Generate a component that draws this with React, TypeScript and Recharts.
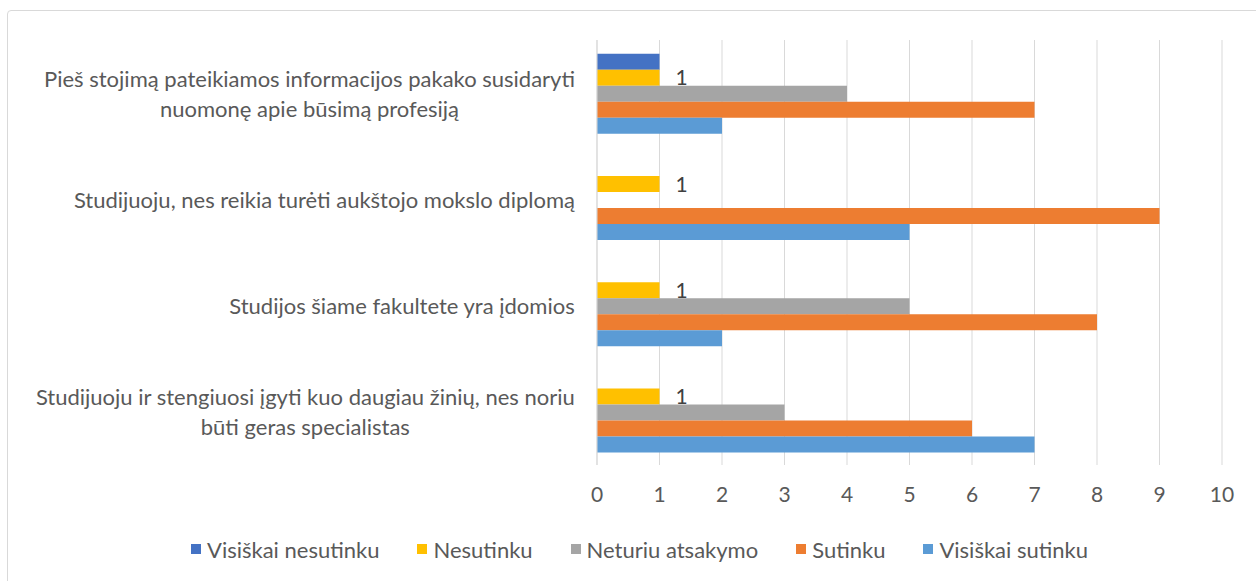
import React from "react"
import {
  BarChart,
  Bar,
  XAxis,
  YAxis,
  CartesianGrid,
  Legend,
  LabelList,
} from "recharts"

const categories = [
  "Pieš stojimą pateikiamos informacijos pakako susidaryti\nnuomonę apie būsimą profesiją",
  "Studijuoju, nes reikia turėti aukštojo mokslo diplomą",
  "Studijos šiame fakultete yra įdomios",
  "Studijuoju ir stengiuosi įgyti kuo daugiau žinių, nes noriu\nbūti geras specialistas",
]

const visiskaiNesutinku = [1, 0, 0, 0]
const nesutinku = [1, 1, 1, 1]
const neturiuAtsakymo = [4, 0, 5, 3]
const sutinku = [7, 9, 8, 6]
const visiskaiSutinku = [2, 5, 2, 7]

const xTicks = [0, 1, 2, 3, 4, 5, 6, 7, 8, 9, 10]

const series = [
  { key: "vn", name: "Visiškai nesutinku", color: "#4472C4", values: visiskaiNesutinku },
  { key: "n", name: "Nesutinku", color: "#FFC000", values: nesutinku },
  { key: "na", name: "Neturiu atsakymo", color: "#A5A5A5", values: neturiuAtsakymo },
  { key: "s", name: "Sutinku", color: "#ED7D31", values: sutinku },
  { key: "vs", name: "Visiškai sutinku", color: "#5B9BD5", values: visiskaiSutinku },
]

const data = categories.map((label, i) => {
  const row: any = { label }
  series.forEach((s) => (row[s.key] = s.values[i]))
  return row
})

const FONT = "Lato, 'Open Sans', sans-serif"
const TEXT = "#595959"
const LABEL_SIZE = 22

let ctx: CanvasRenderingContext2D | null = null
function textWidth(t: string, size: number) {
  if (!ctx) ctx = document.createElement("canvas").getContext("2d")
  if (!ctx) return t.length * size * 0.5
  ctx.font = `${size}px Lato`
  return ctx.measureText(t).width
}

function CategoryTick({ x, y, payload }: any) {
  const lines = String(payload.value).split("\n")
  const w = Math.max(...lines.map((l) => textWidth(l, LABEL_SIZE)))
  const cx = x - w / 2
  const lh = 30
  const startY = y - ((lines.length - 1) * lh) / 2
  return (
    <text fill={TEXT} fontSize={LABEL_SIZE} fontFamily={FONT} textAnchor="middle">
      {lines.map((l, i) => (
        <tspan key={i} x={cx} y={startY + i * lh} dominantBaseline="central">
          {l}
        </tspan>
      ))}
    </text>
  )
}

function LegendContent() {
  return (
    <div
      style={{
        height: 30,
        display: "flex",
        justifyContent: "center",
        alignItems: "center",
        gap: 38,
        fontFamily: FONT,
        fontSize: 22,
        color: TEXT,
        paddingLeft: 57,
      }}
    >
      {series.map((s) => (
        <div key={s.key} style={{ display: "flex", alignItems: "center", gap: 6 }}>
          <span style={{ width: 10, height: 10, background: s.color, display: "inline-block" }} />
          <span>{s.name}</span>
        </div>
      ))}
    </div>
  )
}

export default function App() {
  return (
    <div style={{ position: "absolute", left: 0, top: 0, width: 1256, height: 581, background: "#fff", overflow: "hidden" }}>
      <div
        style={{
          position: "absolute",
          left: 7,
          top: 10,
          width: 1262,
          height: 590,
          border: "1px solid #d9d9d9",
          borderRadius: 4,
        }}
      />
      <div style={{ position: "absolute", left: 0, top: 0 }}>
        <BarChart
          width={1256}
          height={581}
          data={data}
          layout="vertical"
          margin={{ top: 40, right: 34, left: 0, bottom: 17 }}
          barCategoryGap="13%"
          barGap={0}
        >
          <CartesianGrid horizontal={false} stroke="#d9d9d9" />
          <XAxis
            type="number"
            domain={[0, 10]}
            ticks={xTicks}
            axisLine={false}
            tickLine={false}
            tickMargin={16}
            height={69}
            tick={{ fill: TEXT, fontSize: 21, fontFamily: FONT }}
          />
          <YAxis
            type="category"
            dataKey="label"
            width={597}
            axisLine={{ stroke: "#d9d9d9" }}
            tickLine={false}
            tickMargin={16}
            tick={<CategoryTick />}
            interval={0}
          />
          <Legend verticalAlign="bottom" content={<LegendContent />} />
          {series.map((s) => (
            <Bar key={s.key} dataKey={s.key} name={s.name} fill={s.color} isAnimationActive={false}>
              {s.key === "n" && (
                <LabelList
                  dataKey={s.key}
                  position="right"
                  offset={16}
                  fill="#404040"
                  fontSize={21}
                  fontFamily={FONT}
                />
              )}
            </Bar>
          ))}
        </BarChart>
      </div>
    </div>
  )
}
